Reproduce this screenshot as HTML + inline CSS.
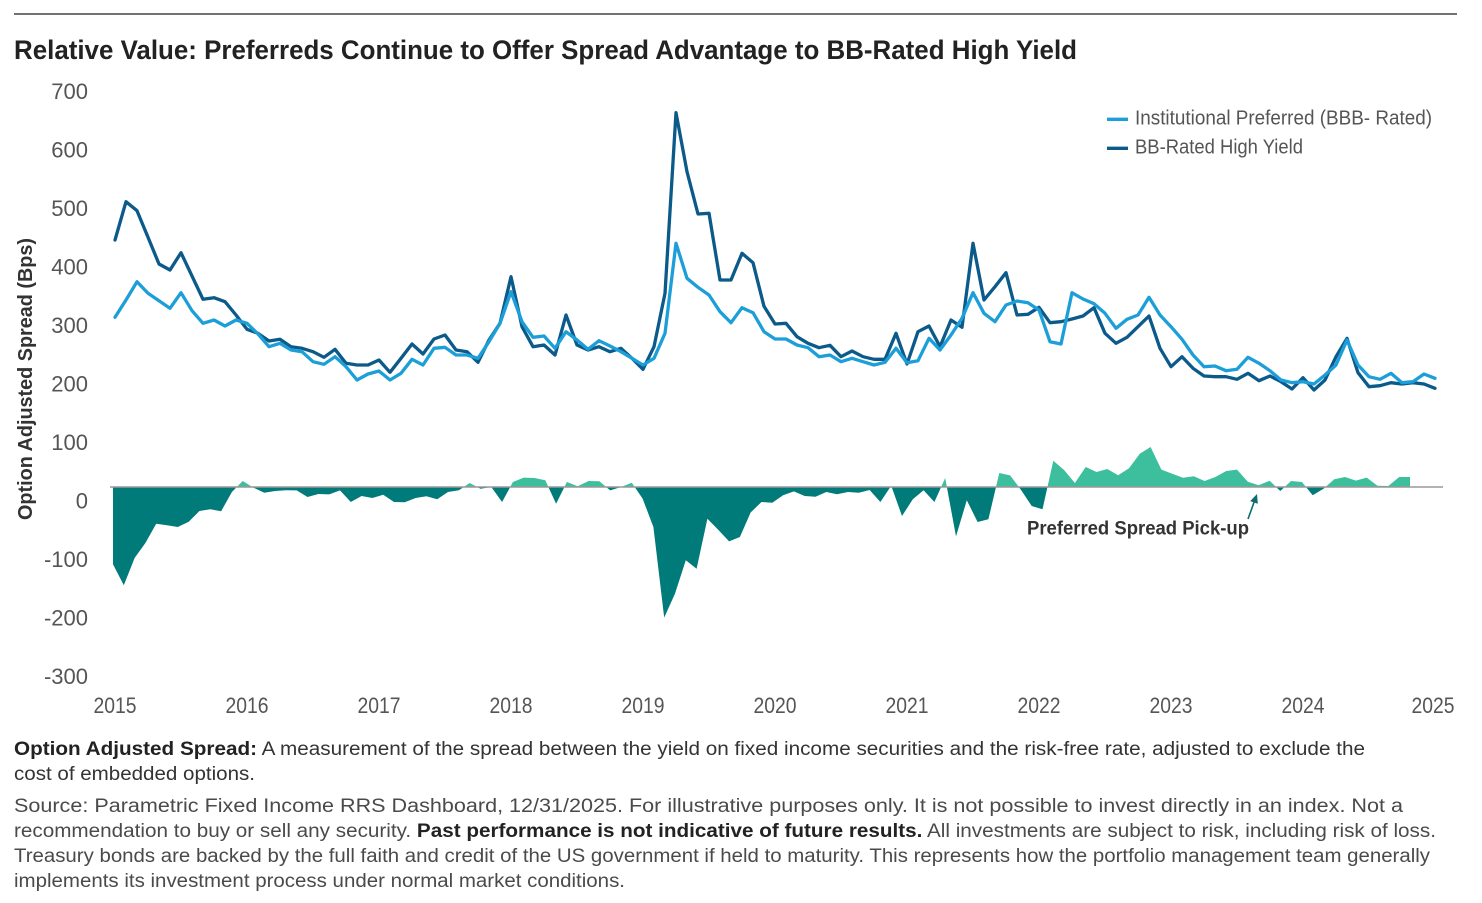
<!DOCTYPE html>
<html>
<head>
<meta charset="utf-8">
<style>
  html,body{margin:0;padding:0;background:#fff;}
  svg{display:block;}
  text{font-family:"Liberation Sans", Arial, sans-serif;}
</style>
</head>
<body>
<svg width="1482" height="903" viewBox="0 0 1482 903" xmlns="http://www.w3.org/2000/svg">
  <!-- top rule -->
  <line x1="14" y1="14" x2="1457" y2="14" stroke="#444" stroke-width="1.6"/>

  <!-- title -->
  <text x="14" y="59" font-size="27" font-weight="bold" fill="#222" textLength="1063" lengthAdjust="spacingAndGlyphs">Relative Value: Preferreds Continue to Offer Spread Advantage to BB-Rated High Yield</text>

  <!-- y axis title -->
  <text transform="translate(32,379) rotate(-90)" text-anchor="middle" font-size="20" font-weight="bold" fill="#333" textLength="282" lengthAdjust="spacingAndGlyphs">Option Adjusted Spread (Bps)</text>

  <!-- y tick labels -->
  <g font-size="22" fill="#555" text-anchor="end">
    <text x="88" y="99">700</text>
    <text x="88" y="157.5">600</text>
    <text x="88" y="216">500</text>
    <text x="88" y="274.5">400</text>
    <text x="88" y="333">300</text>
    <text x="88" y="391.5">200</text>
    <text x="88" y="450">100</text>
    <text x="88" y="508.5">0</text>
    <text x="88" y="567">-100</text>
    <text x="88" y="625.5">-200</text>
    <text x="88" y="684">-300</text>
  </g>

  <!-- x tick labels -->
  <g font-size="22" fill="#555" text-anchor="middle">
    <text x="115" y="713" textLength="43" lengthAdjust="spacingAndGlyphs">2015</text>
    <text x="247" y="713" textLength="43" lengthAdjust="spacingAndGlyphs">2016</text>
    <text x="379" y="713" textLength="43" lengthAdjust="spacingAndGlyphs">2017</text>
    <text x="511" y="713" textLength="43" lengthAdjust="spacingAndGlyphs">2018</text>
    <text x="643" y="713" textLength="43" lengthAdjust="spacingAndGlyphs">2019</text>
    <text x="775" y="713" textLength="43" lengthAdjust="spacingAndGlyphs">2020</text>
    <text x="907" y="713" textLength="43" lengthAdjust="spacingAndGlyphs">2021</text>
    <text x="1039" y="713" textLength="43" lengthAdjust="spacingAndGlyphs">2022</text>
    <text x="1171" y="713" textLength="43" lengthAdjust="spacingAndGlyphs">2023</text>
    <text x="1303" y="713" textLength="43" lengthAdjust="spacingAndGlyphs">2024</text>
    <text x="1433" y="713" textLength="43" lengthAdjust="spacingAndGlyphs">2025</text>
  </g>

  <defs>
    <clipPath id="above"><rect x="0" y="0" width="1482" height="487"/></clipPath>
    <clipPath id="below"><rect x="0" y="487" width="1482" height="416"/></clipPath>
    <path id="area" d="M113,487 L113,564.3 L123.8,585.3 L134.6,558 L145.4,543 L156.2,523.7 L167,525.3 L177.8,527 L188.7,521.7 L199.5,511 L210.3,509.3 L221.1,511.3 L231.9,492 L242.7,481 L253.5,487.7 L264.3,492.7 L275.1,491 L285.9,490.3 L296.7,490.4 L307.5,497 L318.4,494 L329.2,494.4 L340,490.4 L350.8,502 L361.6,496 L372.4,498 L383.2,494.7 L394,502 L404.8,502.3 L415.6,498 L426.4,496.3 L437.2,499.3 L448,492 L458.9,490.3 L469.7,483 L480.5,488.7 L491.3,487 L502.1,502 L512.9,482 L523.7,477.6 L534.5,478 L545.3,480.3 L556.1,503.7 L566.9,482 L577.7,486.3 L588.6,481 L599.4,481.3 L610.2,490.4 L621,487 L631.8,482.7 L642.6,498.6 L653.4,527 L664.2,617.6 L675,593.6 L685.8,560.3 L696.6,568.7 L707.4,518.7 L718.2,529.7 L729.1,541.4 L739.9,537 L750.7,512.4 L761.5,502 L772.3,502.7 L783.1,495.3 L793.9,491.4 L804.7,496 L815.5,496.7 L826.3,492 L837.1,494.3 L847.9,492 L858.8,492.7 L869.6,490 L880.4,502 L891.2,485.7 L902,516 L912.8,499.3 L923.6,490.3 L934.4,502 L945.2,478 L956,536.4 L966.8,500.3 L977.6,522 L988.4,519.3 L999.3,473 L1010.1,475.4 L1020.9,489.7 L1031.7,506 L1042.5,509.3 L1053.3,460.7 L1064.1,470 L1074.9,483 L1085.7,467 L1096.5,472 L1107.3,469 L1118.1,475.3 L1129,468.3 L1139.8,453.7 L1150.6,447 L1161.4,469.6 L1172.2,473.7 L1183,477.7 L1193.8,476.3 L1204.6,481 L1215.4,477 L1226.2,471 L1237,469.6 L1247.8,481.7 L1258.6,485.3 L1269.5,480.7 L1280.3,491 L1291.1,481 L1301.9,482 L1312.7,495.3 L1323.5,488.7 L1334.3,479.3 L1345.1,477 L1355.9,480.6 L1366.7,477.6 L1377.5,485.7 L1388.3,486 L1399.2,477 L1410,477 L1410,487 Z"/>
  </defs>

  <!-- spread area -->
  <use href="#area" fill="#3dbf9e" clip-path="url(#above)"/>
  <use href="#area" fill="#007b79" clip-path="url(#below)"/>

  <!-- zero line -->
  <line x1="110" y1="487" x2="1443" y2="487" stroke="#999" stroke-width="1.5"/>

  <!-- BB-Rated High Yield -->
  <polyline fill="none" stroke="#0b5a8a" stroke-width="3.3" stroke-linejoin="round" stroke-linecap="round" points="115,240 126,201.7 137,210.7 148,237.3 159,264 170,270 181,252.7 192,276 203,299.3 214,297.7 225,301.7 236,315 247,329.3 258,333.3 269,341 280,339.3 291,346.7 302,348.3 313,351.7 324,357.3 335,349.3 346,363.3 357,365 368,365 379,360 390,372.3 401,358.3 412,344 423,354 434,339 445,335 456,350 467,351.7 478,362.3 489,340 500,323.3 511,276.7 522,326.7 533,346.7 544,345 555,355 566,315 577,345 588,350 599,346.7 610,351.7 621,348.3 632,358.3 643,369.3 654,346.7 665,293.3 676,112.7 687,171.7 698,214 709,213.3 720,280 731,280 742,253.3 753,262.7 764,306.3 775,324 786,323.3 797,336.7 808,343.3 819,347.7 830,345.3 841,356.7 852,351 863,356.7 874,359.3 885,359.3 896,333.3 907,364 918,331.7 929,326 940,346.7 951,320 962,327.3 973,243.3 984,300 995,286.7 1006,272.7 1017,315 1028,314.3 1039,307.3 1050,322.7 1061,321.7 1072,319 1083,316 1094,307.7 1105,333.3 1116,343.3 1127,337.3 1138,326.7 1149,316 1160,348.3 1171,366.7 1182,356.7 1193,368.3 1204,376 1215,376.7 1226,376.7 1237,379.3 1248,373.3 1259,380.7 1270,376 1281,381.7 1292,389 1303,377.7 1314,390 1325,380 1336,356.7 1347,338.3 1358,372.7 1369,386.7 1380,385.7 1391,382.7 1402,384 1413,382.7 1424,384 1435,388.3"/>

  <!-- Institutional Preferred -->
  <polyline fill="none" stroke="#1c9fd9" stroke-width="3.3" stroke-linejoin="round" stroke-linecap="round" points="115,317.3 126,300 137,281.7 148,293.3 159,300.7 170,308.3 181,292.7 192,310.7 203,323.3 214,320 225,326 236,320 247,323.3 258,334 269,346.7 280,343.3 291,350 302,351.7 313,361.7 324,364.3 335,356.7 346,366.7 357,380 368,374 379,371 390,380 401,373.3 412,359.3 423,365 434,348.3 445,347.3 456,355 467,355 478,358.3 489,341.7 500,323.3 511,291.7 522,321.7 533,337.3 544,336 555,348.3 566,331.7 577,340 588,349.3 599,340.7 610,346 621,351.7 632,358.3 643,365 654,358.3 665,333.3 676,243.3 687,278.3 698,287.3 709,295 720,311.7 731,322.7 742,307.7 753,312.7 764,331.7 775,339 786,339 797,345 808,347.7 819,356.7 830,355 841,361.7 852,358.3 863,361.7 874,365 885,362.3 896,348.3 907,362.7 918,360.7 929,338.3 940,350 951,335 962,318.3 973,292.7 984,313.3 995,321.7 1006,305 1017,301 1028,302.7 1039,310 1050,341.7 1061,344 1072,292.7 1083,299 1094,303.7 1105,313.3 1116,328.3 1127,319.3 1138,315 1149,297.3 1160,315 1171,326.7 1182,339.3 1193,355 1204,366.7 1215,366 1226,370.7 1237,369.3 1248,357.3 1259,363.3 1270,370.7 1281,380 1292,382.7 1303,381.7 1314,384 1325,375 1336,365 1347,340 1358,365 1369,376.7 1380,379.3 1391,373.3 1402,382.7 1413,381.7 1424,374 1435,378.3"/>

  <!-- legend -->
  <line x1="1107" y1="119.3" x2="1128" y2="119.3" stroke="#1c9fd9" stroke-width="3.3"/>
  <text x="1135" y="124.5" font-size="20.5" fill="#555" textLength="297" lengthAdjust="spacingAndGlyphs">Institutional Preferred (BBB- Rated)</text>
  <line x1="1107" y1="148.3" x2="1128" y2="148.3" stroke="#0b5a8a" stroke-width="3.3"/>
  <text x="1135" y="153.5" font-size="20.5" fill="#555" textLength="168" lengthAdjust="spacingAndGlyphs">BB-Rated High Yield</text>

  <!-- annotation -->
  <text x="1027" y="534.5" font-size="19" font-weight="bold" fill="#333" textLength="222" lengthAdjust="spacingAndGlyphs">Preferred Spread Pick-up</text>
  <line x1="1248" y1="519" x2="1254.5" y2="501" stroke="#0b6e6e" stroke-width="1.6"/>
  <polygon points="1257,494 1257.8,503.8 1250.2,501.1" fill="#0b6e6e"/>

  <!-- footer -->
  <g font-size="19">
    <text x="14" y="755" fill="#333" textLength="1351" lengthAdjust="spacingAndGlyphs"><tspan font-weight="bold" fill="#222">Option Adjusted Spread:</tspan> A measurement of the spread between the yield on fixed income securities and the risk-free rate, adjusted to exclude the</text>
    <text x="14" y="780" fill="#333" textLength="241" lengthAdjust="spacingAndGlyphs">cost of embedded options.</text>
    <text x="14" y="812" fill="#4a4a4a" textLength="1389" lengthAdjust="spacingAndGlyphs">Source: Parametric Fixed Income RRS Dashboard, 12/31/2025. For illustrative purposes only. It is not possible to invest directly in an index. Not a</text>
    <text x="14" y="837" fill="#4a4a4a" textLength="1422" lengthAdjust="spacingAndGlyphs">recommendation to buy or sell any security. <tspan font-weight="bold" fill="#222">Past performance is not indicative of future results.</tspan> All investments are subject to risk, including risk of loss.</text>
    <text x="14" y="862" fill="#4a4a4a" textLength="1416" lengthAdjust="spacingAndGlyphs">Treasury bonds are backed by the full faith and credit of the US government if held to maturity. This represents how the portfolio management team generally</text>
    <text x="14" y="887" fill="#4a4a4a" textLength="611" lengthAdjust="spacingAndGlyphs">implements its investment process under normal market conditions.</text>
  </g>
</svg>
</body>
</html>
